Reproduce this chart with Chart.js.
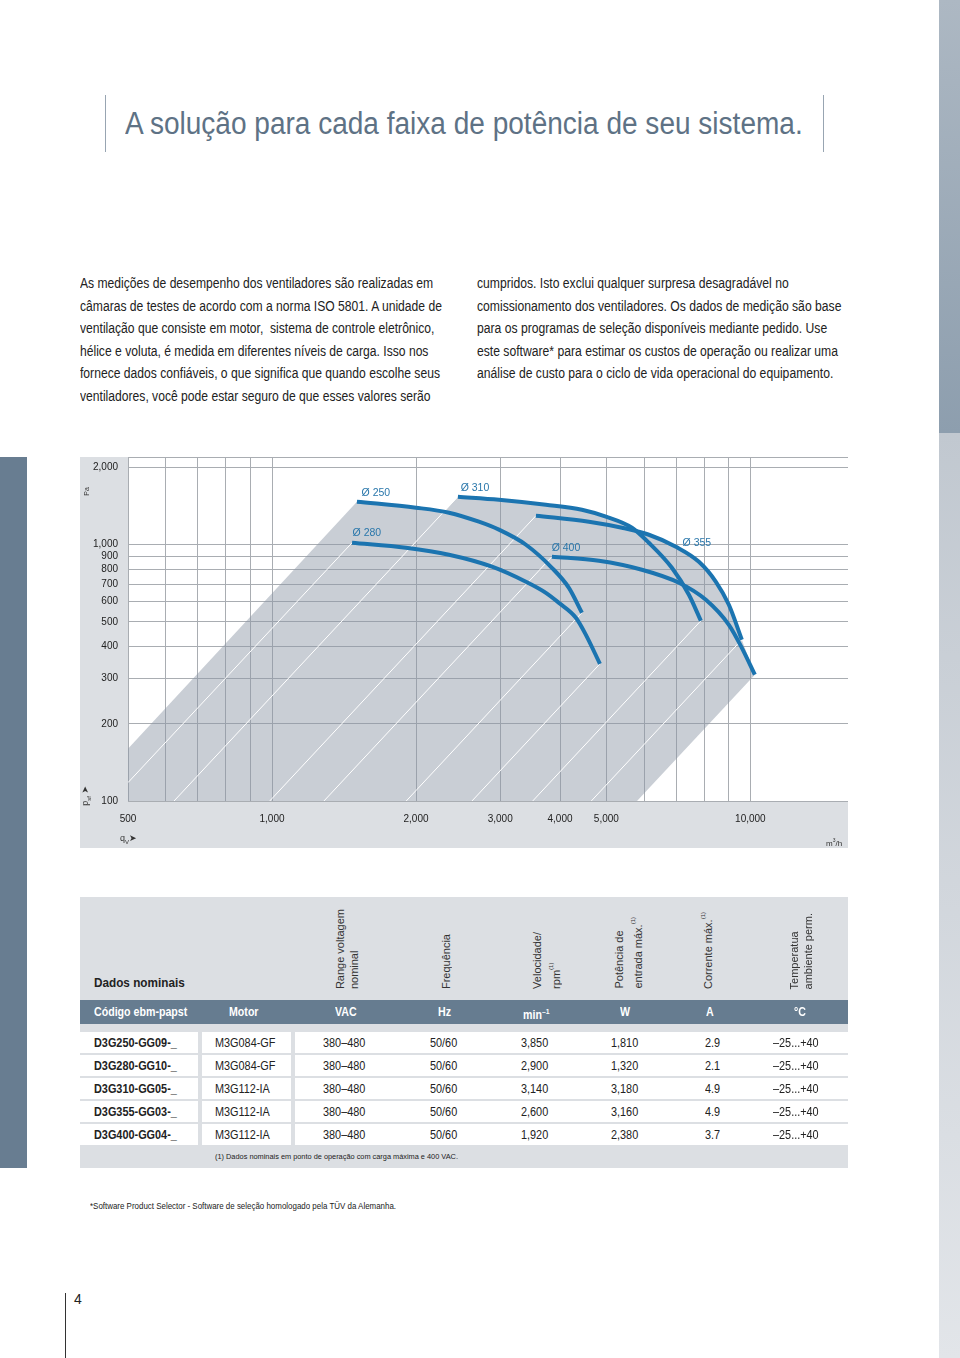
<!DOCTYPE html>
<html lang="pt">
<head>
<meta charset="utf-8">
<script src="https://cdn.jsdelivr.net/npm/chart.js@4.4.1/dist/chart.umd.min.js"></script>
<style>
  body { margin:0; width:960px; height:1358px; position:relative; overflow:hidden; background:#fff;
         font-family:"Liberation Sans",Arial,sans-serif; color:#1e1e1e; }
  .a { position:absolute; white-space:nowrap; }
  #sideR1 { left:939px; top:0; width:21px; height:433px; background:linear-gradient(#adb8c3,#8d9eae); }
  #sideR2 { left:939px; top:433px; width:21px; height:925px; background:linear-gradient(#c1c8d0,#e2e5e9); }
  #sideL { left:0; top:457px; width:27px; height:711px; background:#687d91; }
  .vline { width:1px; background:#98a5b2; }
  #title { left:125px; top:104px; font-size:31px; line-height:40px; color:#5e7285; }
  .body { top:272px; font-size:14px; line-height:22.6px; color:#222; }
  .panel { background:#dcdfe3; }
  #chartBox { left:80px; top:457px; width:768px; height:391px; }
  #chart { position:absolute; left:0; top:0; }
  .axisTxt { color:#333; }
  .rot { writing-mode:vertical-rl; transform:rotate(180deg); font-size:11px; line-height:14px; color:#333; }
  .cell { position:absolute; background:#fff; }
  .tt { position:absolute; white-space:nowrap; font-size:12.5px; line-height:14px; color:#222;
        transform:scaleX(0.87); transform-origin:0 0; }
  .hd { position:absolute; white-space:nowrap; font-size:12.5px; line-height:14px; color:#fff; font-weight:bold;
        transform:scaleX(0.85); transform-origin:0 0; }
</style>
</head>
<body>
<div id="sideR1" class="a"></div>
<div id="sideR2" class="a"></div>
<div id="sideL" class="a"></div>

<div class="a vline" style="left:105px;top:95px;height:57px"></div>
<div class="a vline" style="left:823px;top:95px;height:57px"></div>
<div id="title" class="a" data-fit="678">A solução para cada faixa de potência de seu sistema.</div>

<div class="a body" style="left:80px" data-fit="362">As medições de desempenho dos ventiladores são realizadas em<br>câmaras de testes de acordo com a norma ISO 5801. A unidade de<br>ventilação que consiste em motor,&nbsp; sistema de controle eletrônico,<br>hélice e voluta, é medida em diferentes níveis de carga. Isso nos<br>fornece dados confiáveis, o que significa que quando escolhe seus<br>ventiladores, você pode estar seguro de que esses valores serão</div>
<div class="a body" style="left:477px" data-fit="364">cumpridos. Isto exclui qualquer surpresa desagradável no<br>comissionamento dos ventiladores. Os dados de medição são base<br>para os programas de seleção disponíveis mediante pedido. Use<br>este software* para estimar os custos de operação ou realizar uma<br>análise de custo para o ciclo de vida operacional do equipamento.</div>

<div id="chartBox" class="a panel">
  <canvas id="chart" width="768" height="391"></canvas>
  <div class="a axisTxt" style="left:2px;top:31px;font-size:7px;transform:rotate(-90deg)">Pa</div>
  <div class="a axisTxt" style="left:-4px;top:333px;font-size:9px;transform:rotate(-90deg)">p<sub style="font-size:6px">sf</sub> <span style="font-family:'DejaVu Sans'">➤</span></div>
  <div class="a axisTxt" style="left:40px;top:376px;font-size:9px">q<sub style="font-size:6px">V</sub><span style="font-family:'DejaVu Sans'">➤</span></div>
  <div class="a axisTxt" style="left:746px;top:380px;font-size:8px">m<sup style="font-size:5px">3</sup>/h</div>
</div>

<div class="a panel" style="left:80px;top:897px;width:768px;height:271px"></div>
<div class="a" style="left:80px;top:1000px;width:768px;height:24px;background:#667c90"></div>
<div id="table"></div>

<div class="a" style="left:90px;top:1201px;font-size:9px;color:#222" data-fit="306">*Software Product Selector - Software de seleção homologado pela TÜV da Alemanha.</div>
<div class="a" style="left:65px;top:1293px;width:1px;height:65px;background:#333"></div>
<div class="a" style="left:74px;top:1291px;font-size:14px;color:#222">4</div>

<script>
// axis ticks (gridlines) and which of them carry a label
const flowTicks = [500, 600, 700, 800, 900, 1000, 2000, 3000, 4000, 5000, 6000, 7000, 8000, 9000, 10000];
const flowLabels = [500, 1000, 2000, 3000, 4000, 5000, 10000];
const pressTicks = [100, 200, 300, 400, 500, 600, 700, 800, 900, 1000, 2000, 2200];
const pressLabels = [100, 200, 300, 400, 500, 600, 700, 800, 900, 1000, 2000];

// fan curves, qV in m3/h and psf in Pa
const fanNames = ['Ø 250', 'Ø 280', 'Ø 310', 'Ø 355', 'Ø 400'];
const flow250 = [1505, 2000, 2344, 2707, 2981, 3395, 3847, 4175, 4445];
const press250 = [1472, 1395, 1334, 1230, 1145, 1000, 813, 679, 543];
const flow280 = [1470, 1905, 2344, 2883, 3395, 3737, 3980, 4318, 4531, 4848];
const press280 = [1018, 973, 914, 821, 717, 649, 593, 519, 445, 343];
const flow310 = [2447, 2981, 3737, 4445, 4989, 5655, 6136, 6854, 7439, 7881];
const press310 = [1540, 1499, 1433, 1370, 1287, 1165, 1018, 813, 638, 505];
const flow355 = [3562, 4597, 5390, 6136, 6988, 7806, 8472, 9017, 9598];
const press355 = [1298, 1230, 1165, 1094, 982, 858, 717, 583, 426];
const flow400 = [3847, 4823, 5933, 7090, 8072, 9017, 9598, 10219];
const press400 = [898, 866, 799, 711, 610, 487, 396, 311];

// where the curve names sit
const labelFlow = [1649, 1579, 2656, 7731, 4117];
const labelPress = [1597, 1114, 1670, 1018, 973];

// grey operating range: upper envelope and lower edge
const rangeTopFlow = [500, 1505, 2000, 2290, 2447, 2981, 3737, 4445, 4989, 5655, 5850, 6136, 6988, 7806, 8472, 9017, 9598, 10219];
const rangeTopPress = [160, 1472, 1395, 1345, 1540, 1499, 1433, 1370, 1287, 1165, 1120, 1094, 982, 858, 717, 583, 426, 311];
const rangeBottomFlow = [500, 5795, 10219];
const rangeBottomPress = [100, 100, 311];

// white system lines, from a curve end down to the plot edge
const sysFlowHigh = [1470, 2447, 3562, 3847, 4445, 4848, 7881, 9598];
const sysPressHigh = [1018, 1540, 1298, 898, 543, 343, 505, 426];
const sysFlowLow = [500, 624, 989, 1284, 1908, 2618, 3507, 4650];
const sysPressLow = [118, 100, 100, 100, 100, 100, 100, 100];

// table
const colNames = ['Código ebm-papst', 'Motor', 'VAC', 'Hz', 'min<sup style="font-size:8px">–1</sup>', 'W', 'A', '°C'];
const tableRows = [
  ['D3G250-GG09-_', 'M3G084-GF', '380–480', '50/60', '3,850', '1,810', '2.9', '–25...+40'],
  ['D3G280-GG10-_', 'M3G084-GF', '380–480', '50/60', '2,900', '1,320', '2.1', '–25...+40'],
  ['D3G310-GG05-_', 'M3G112-IA', '380–480', '50/60', '3,140', '3,180', '4.9', '–25...+40'],
  ['D3G355-GG03-_', 'M3G112-IA', '380–480', '50/60', '2,600', '3,160', '4.9', '–25...+40'],
  ['D3G400-GG04-_', 'M3G112-IA', '380–480', '50/60', '1,920', '2,380', '3.7', '–25...+40']
];

const pts = (xs, ys) => xs.map((x, i) => ({x: x, y: ys[i]}));

// build the table
function buildTable() {
  const t = document.getElementById('table');
  let html = '';
  html += '<div class="tt" style="left:94px;top:976px;font-weight:bold;font-size:13.5px">Dados nominais</div>';
  const rotHeads = [
    [333, 'Range voltagem<br>nominal'],
    [439, 'Frequência'],
    [530, 'Velocidade/<br>rpm<sup style="font-size:6px">(1)</sup>'],
    [612, 'Potência de<br>entrada máx.<sup style="font-size:6px">(1)</sup>'],
    [696, 'Corrente máx.<sup style="font-size:6px">(1)</sup>'],
    [787, 'Temperatua<br>ambiente perm.']
  ];
  rotHeads.forEach(h => {
    html += '<div class="a rot" style="left:' + h[0] + 'px;bottom:' + (1358 - 989) + 'px">' + h[1] + '</div>';
  });
  const headX = [94, 229, 335, 438, 523, 620, 706, 794];
  colNames.forEach((c, i) => {
    html += '<div class="hd" style="left:' + headX[i] + 'px;top:1005px">' + c + '</div>';
  });
  const colX = [94, 215, 323, 430, 521, 611, 705, 773];
  tableRows.forEach((r, j) => {
    const top = 1032 + j * 23;
    html += '<div class="cell" style="left:80px;top:' + top + 'px;width:118px;height:21px"></div>';
    html += '<div class="cell" style="left:202px;top:' + top + 'px;width:89px;height:21px"></div>';
    html += '<div class="cell" style="left:295px;top:' + top + 'px;width:553px;height:21px"></div>';
    r.forEach((v, i) => {
      html += '<div class="tt" style="left:' + colX[i] + 'px;top:' + (top + 4) + 'px' +
        (i === 0 ? ';font-weight:bold' : '') + '">' + v + '</div>';
    });
  });
  html += '<div class="a" style="left:215px;top:1152px;font-size:8px;color:#222" data-fit="243">(1) Dados nominais em ponto de operação com carga máxima e 400 VAC.</div>';
  t.innerHTML = html;
}
buildTable();

// squeeze text to the condensed widths of the print layout
document.querySelectorAll('[data-fit]').forEach(el => {
  const w = el.scrollWidth;
  el.style.transformOrigin = '0 0';
  el.style.transform = 'scaleX(' + (parseFloat(el.dataset.fit) / w) + ')';
});

// white plot area and curve names
const paperPlugin = {
  id: 'paper',
  beforeDraw(chart) {
    const {ctx, chartArea: a} = chart;
    ctx.save();
    ctx.fillStyle = '#fff';
    ctx.fillRect(a.left, a.top, a.right - a.left, a.bottom - a.top);
    ctx.restore();
  },
  afterDatasetsDraw(chart) {
    const {ctx, scales} = chart;
    ctx.save();
    ctx.font = '10.5px "Liberation Sans", sans-serif';
    ctx.fillStyle = '#2a77ab';
    ctx.textAlign = 'center';
    ctx.textBaseline = 'middle';
    fanNames.forEach((n, i) => {
      ctx.fillText(n, scales.x.getPixelForValue(labelFlow[i]), scales.y.getPixelForValue(labelPress[i]));
    });
    ctx.restore();
  }
};

const fanFlows = [flow250, flow280, flow310, flow355, flow400];
const fanPress = [press250, press280, press310, press355, press400];

const datasets = [];
fanFlows.forEach((f, i) => {
  datasets.push({
    label: fanNames[i],
    data: pts(f, fanPress[i]),
    showLine: true,
    borderColor: '#1b74b0',
    borderWidth: 4,
    borderCapStyle: 'butt',
    cubicInterpolationMode: 'monotone',
    pointRadius: 0,
    fill: false
  });
});
sysFlowHigh.forEach((f, i) => {
  datasets.push({
    data: [{x: sysFlowLow[i], y: sysPressLow[i]}, {x: f, y: sysPressHigh[i]}],
    showLine: true,
    borderColor: '#ffffff',
    borderWidth: 1,
    pointRadius: 0,
    fill: false
  });
});
datasets.push({
  data: pts(rangeTopFlow, rangeTopPress),
  showLine: true,
  borderWidth: 0,
  borderColor: 'rgba(0,0,0,0)',
  backgroundColor: 'rgba(140,150,165,0.47)',
  pointRadius: 0,
  fill: '+1'
});
datasets.push({
  data: pts(rangeBottomFlow, rangeBottomPress),
  showLine: true,
  borderWidth: 0,
  borderColor: 'rgba(0,0,0,0)',
  pointRadius: 0,
  fill: false
});

const tickFont = {family: '"Liberation Sans", sans-serif', size: 10};

new Chart(document.getElementById('chart').getContext('2d'), {
  type: 'scatter',
  data: {datasets: datasets},
  plugins: [paperPlugin],
  options: {
    responsive: false,
    animation: false,
    devicePixelRatio: 1,
    layout: {padding: 0},
    plugins: {legend: {display: false}, tooltip: {enabled: false}},
    scales: {
      x: {
        type: 'logarithmic',
        position: 'bottom',
        min: 500,
        max: 16000,
        afterBuildTicks: s => { s.ticks = flowTicks.map(v => ({value: v})); },
        afterFit: s => { s.height = 47; s.paddingLeft = 0; s.paddingRight = 0; },
        grid: {color: '#a9adb2', lineWidth: 1, drawTicks: false},
        border: {display: false},
        ticks: {
          autoSkip: false, maxRotation: 0, padding: 12, color: '#222', font: tickFont,
          callback: v => flowLabels.includes(v) ? v.toLocaleString('en-US') : ''
        }
      },
      y: {
        type: 'logarithmic',
        position: 'left',
        min: 100,
        max: 2200,
        afterBuildTicks: s => { s.ticks = pressTicks.map(v => ({value: v})); },
        afterFit: s => { s.width = 48; s.paddingTop = 0; s.paddingBottom = 0; },
        grid: {color: '#a9adb2', lineWidth: 1, drawTicks: false},
        border: {display: false},
        ticks: {
          autoSkip: false, padding: 10, color: '#222', font: tickFont,
          callback: v => pressLabels.includes(v) ? v.toLocaleString('en-US') : ''
        }
      }
    }
  }
});
</script>
</body>
</html>
